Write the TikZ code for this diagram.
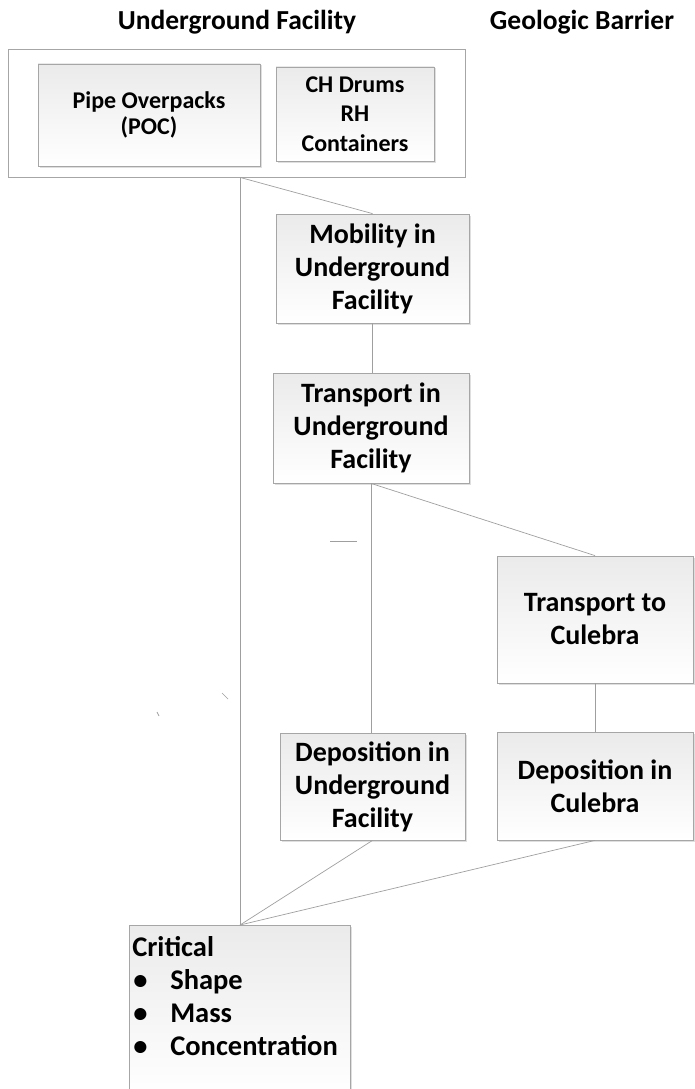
\documentclass[tikz,border=0pt]{standalone}
\usepackage{fontspec}
\setmainfont{Carlito}
\usetikzlibrary{positioning,shadows}

\begin{document}
\begin{tikzpicture}[
    x=1pt,y=-1pt,
    box/.style={rectangle, draw=gray!70, line width=0.8pt, top color=gray!16, bottom color=white,
        drop shadow={opacity=0.25, shadow xshift=1.5pt, shadow yshift=-1.5pt},
        align=center, inner sep=0pt, font=\bfseries\fontsize{28}{33}\selectfont},
    link/.style={draw=gray!75, line width=0.7pt},
    title/.style={font=\bfseries\fontsize{27.5}{30}\selectfont}
]
    \useasboundingbox (0,0) rectangle (694,1089);

    % Headings
    \node[title] (uftitle) at (237,22) {Underground Facility};
    \node[title] (gbtitle) at (582,22) {Geologic Barrier};

    % Waste forms
    \node[draw=gray!70, line width=0.8pt, minimum width=457pt, minimum height=128pt] (frame) at (236.5,113) {};
    \node[box, minimum width=222pt, minimum height=102pt, font=\bfseries\fontsize{24}{26}\selectfont] (poc) at (149,115) {Pipe Overpacks\\(POC)};
    \node[box, minimum width=158pt, minimum height=94pt, font=\bfseries\fontsize{24}{29.5}\selectfont] (ch) at (355,114) {CH Drums\\RH\\Containers};

    % Process chain
    \node[box, minimum width=193pt, minimum height=109pt] (mob) at (372.5,268.5) {Mobility in\\Underground\\Facility};
    \node[box, minimum width=196pt, minimum height=110pt] (tin) at (371,428) {Transport in\\Underground\\Facility};
    \node[box, minimum width=196pt, minimum height=127pt] (tcul) at (595,619.5) {Transport to\\Culebra};
    \node[box, minimum width=185pt, minimum height=107pt] (dep) at (372.5,786.5) {Deposition in\\Underground\\Facility};
    \node[box, minimum width=196pt, minimum height=108pt] (dcul) at (595,786) {Deposition in\\Culebra};

    % Critical parameters
    \node[box, anchor=north, minimum width=221pt, minimum height=170pt] (crit) at (240,925) {};
    \node[below right=11pt and 3pt of crit.north west, align=left, inner sep=0pt,
        font=\bfseries\fontsize{28.5}{33}\selectfont] (critlist)
        {Critical\\
         \makebox[38pt][l]{\hspace{1pt}\textbullet}Shape\\
         \makebox[38pt][l]{\hspace{1pt}\textbullet}Mass\\
         \makebox[38pt][l]{\hspace{1pt}\textbullet}Concentration};

    % Connections
    \coordinate (split) at (frame.south -| crit.north);
    \draw[link] (split) -- (mob.north);
    \draw[link] (split) -- (crit.north);
    \draw[link] (mob.south) -- (mob.south |- tin.north);
    \draw[link] (tin.south) -- (tin.south |- dep.north);
    \draw[link] (tin.south) -- (tcul.north);
    \draw[link] (tcul.south) -- (tcul.south |- dcul.north);
    \draw[link] (dep.south) -- (crit.north);
    \draw[link] (dcul.south) -- (crit.north);

    % stray marks
    \draw[link] (330,541) -- (357,541);
    \draw[link] (222,693) -- (228,699);
    \draw[link] (157,712) -- (159,716);
\end{tikzpicture}
\end{document}
